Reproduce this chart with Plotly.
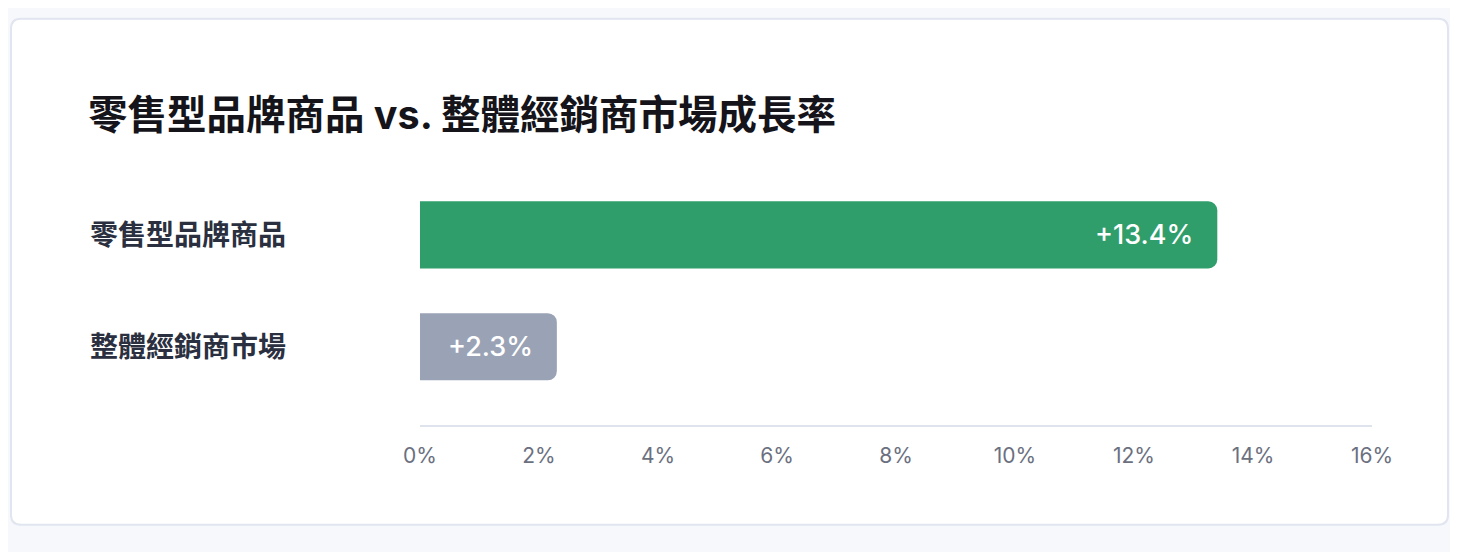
import plotly.graph_objects as go

categories = ["零售型品牌商品", "整體經銷商市場"]
values = [13.4, 2.3]
value_labels = ["+13.4%", "+2.3%"]
bar_colors = ["#2f9e6b", "#9aa3b6"]
tick_vals = [0, 2, 4, 6, 8, 10, 12, 14, 16]
tick_text = ["0%", "2%", "4%", "6%", "8%", "10%", "12%", "14%", "16%"]
title_text = "零售型品牌商品 vs. 整體經銷商市場成長率"

# page offset (browser body margin)
OFF = 8
W, H = 1458 - OFF, 552 - OFF
PL, PR = 420 - OFF, 1372 - OFF
PT, PB = 178.5 - OFF, 425 - OFF

def px_x(x):
    return (x - OFF - PL) / (PR - PL)

def px_y(y):
    return (PB - (y - OFF)) / (PB - PT)

FONT = "Inter, 'Noto Sans CJK TC', sans-serif"

fig = go.Figure()
fig.add_trace(go.Bar(
    y=categories, x=values, orientation="h",
    marker=dict(color=bar_colors, cornerradius=9, line=dict(width=0)),
    width=0.6, hoverinfo="skip", showlegend=False,
))

# value labels inside bar ends
for c, v, t in zip(categories, values, value_labels):
    fig.add_annotation(x=v, y=c, xref="x", yref="y", text=t, showarrow=False,
                       xanchor="right", xshift=-22,
                       font=dict(family=FONT, size=27, color="white", weight=500))

# category labels
for c in categories:
    fig.add_annotation(x=px_x(88), y=c, xref="paper", yref="y", text=c, showarrow=False,
                       xanchor="left",
                       font=dict(family=FONT, size=28, color="#2b3040", weight=600))

# card background
x0, x1, y0, y1, r = 11, 1448, 18, 525, 10
def P(x, y):
    return f"{px_x(x):.6f},{px_y(y):.6f}"
path = (f"M {P(x0 + r, y0)} L {P(x1 - r, y0)} Q {P(x1, y0)} {P(x1, y0 + r)} "
        f"L {P(x1, y1 - r)} Q {P(x1, y1)} {P(x1 - r, y1)} "
        f"L {P(x0 + r, y1)} Q {P(x0, y1)} {P(x0, y1 - r)} "
        f"L {P(x0, y0 + r)} Q {P(x0, y0)} {P(x0 + r, y0)} Z")
fig.add_shape(type="path", path=path, xref="paper", yref="paper",
              fillcolor="white", line=dict(color="#e1e5ef", width=2), layer="below")

fig.update_layout(
    width=W, height=H,
    margin=dict(l=PL, r=W - PR, t=PT, b=H - PB, pad=0),
    paper_bgcolor="#f7f8fc", plot_bgcolor="rgba(0,0,0,0)",
    title=dict(text=title_text, x=(88 - OFF) / W, xanchor="left", xref="container",
               y=1 - (115 - OFF) / H, yanchor="middle", yref="container",
               font=dict(family=FONT, size=39.5, color="#14141a", weight=700)),
    xaxis=dict(range=[0, 16], tickvals=tick_vals, ticktext=tick_text,
               showgrid=False, zeroline=False, showline=True, linecolor="#dfe3ee",
               linewidth=2, ticks="", ticklabelstandoff=11,
               tickfont=dict(family=FONT, size=21, color="#6b7080"), fixedrange=True),
    yaxis=dict(type="category", categoryorder="array", categoryarray=categories,
               range=[1.7, -0.5], showticklabels=False, showgrid=False,
               zeroline=False, showline=False, fixedrange=True),
    bargap=0.4,
    font=dict(family=FONT),
)

fig.write_html("out.html")
